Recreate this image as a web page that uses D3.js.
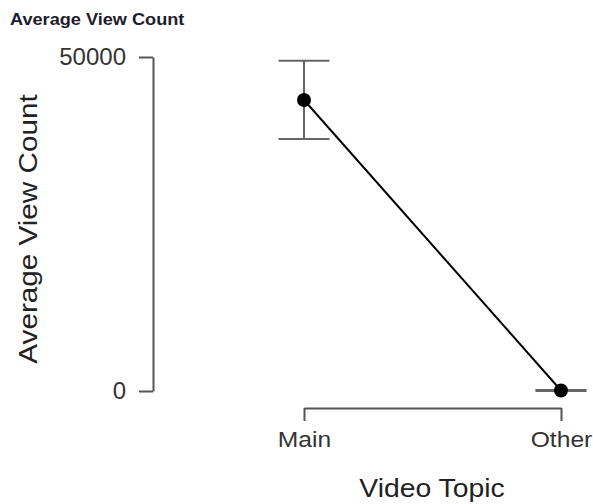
<!DOCTYPE html>
<html>
<head>
<meta charset="utf-8">
<script src="https://cdn.jsdelivr.net/npm/d3@7"></script>
<style>
  html, body { margin: 0; padding: 0; background: #fff; }
  svg { display: block; font-family: "Liberation Sans", Arial, sans-serif; }
</style>
</head>
<body>
<svg id="chart" width="593" height="504"></svg>
<script>
const categories = ["Main", "Other"];
const means = [43560, 80];
const lowerCI = [37720, 0];
const upperCI = [49450, 160];
const yTicks = [0, 50000];
const chartTitle = "Average View Count";
const yTitle = "Average View Count";
const xTitle = "Video Topic";

const svg = d3.select("#chart");

const x = d3.scalePoint().domain(categories).range([304, 561]).padding(0);
const y = d3.scaleLinear().domain([0, 50000]).range([391, 57]);

// title
svg.append("text")
  .attr("transform", "translate(10,25) scale(1.1,1)")
  .attr("font-size", 16.5).attr("font-weight", "bold")
  .attr("fill", "#1d1d2b")
  .text(chartTitle);

// y axis
const yAxis = svg.append("g")
  .attr("transform", "translate(153,0)")
  .call(d3.axisLeft(y).tickValues(yTicks).tickSize(14).tickSizeOuter(0).tickPadding(13).tickFormat(d3.format("d")));
yAxis.select(".domain").attr("stroke", "#555").attr("stroke-width", 2);
yAxis.selectAll(".tick line").attr("stroke", "#555").attr("stroke-width", 2);
yAxis.selectAll(".tick text").attr("font-size", 24).attr("fill", "#333")
  .attr("font-family", "Liberation Sans, Arial, sans-serif");

// x axis
const xAxis = svg.append("g")
  .attr("transform", "translate(0,408)")
  .call(d3.axisBottom(x).tickSize(13).tickSizeOuter(0).tickPadding(10));
xAxis.select(".domain").attr("stroke", "#555").attr("stroke-width", 2);
xAxis.selectAll(".tick line").attr("stroke", "#555").attr("stroke-width", 2);
xAxis.selectAll(".tick text").attr("font-size", 22).attr("fill", "#333")
  .attr("font-family", "Liberation Sans, Arial, sans-serif")
  .attr("transform", "scale(1.12,1)");

// axis titles
svg.append("text")
  .attr("transform", "translate(432,497) scale(1.09,1)")
  .attr("text-anchor", "middle")
  .attr("font-size", 26).attr("fill", "#222")
  .text(xTitle);

svg.append("text")
  .attr("transform", "translate(37,229) rotate(-90) scale(1.12,1)")
  .attr("text-anchor", "middle")
  .attr("font-size", 26.5).attr("fill", "#222")
  .text(yTitle);

const data = categories.map((c, i) => ({ c, m: means[i], lo: lowerCI[i], hi: upperCI[i] }));

// error bars
const eb = svg.append("g").attr("stroke", "#666").attr("stroke-width", 2).attr("fill", "none");
data.forEach(d => {
  const cx = x(d.c);
  eb.append("line").attr("x1", cx).attr("x2", cx).attr("y1", y(d.lo)).attr("y2", y(d.hi));
  eb.append("line").attr("x1", cx - 25.5).attr("x2", cx + 25.5).attr("y1", y(d.lo)).attr("y2", y(d.lo));
  eb.append("line").attr("x1", cx - 25.5).attr("x2", cx + 25.5).attr("y1", y(d.hi)).attr("y2", y(d.hi));
});

// line
svg.append("path")
  .datum(data)
  .attr("fill", "none").attr("stroke", "#000").attr("stroke-width", 2)
  .attr("d", d3.line().x(d => x(d.c)).y(d => y(d.m)));

// points
svg.selectAll("circle.pt").data(data).enter().append("circle")
  .attr("class", "pt")
  .attr("cx", d => x(d.c)).attr("cy", d => y(d.m)).attr("r", 7)
  .attr("fill", "#000");
</script>
</body>
</html>
